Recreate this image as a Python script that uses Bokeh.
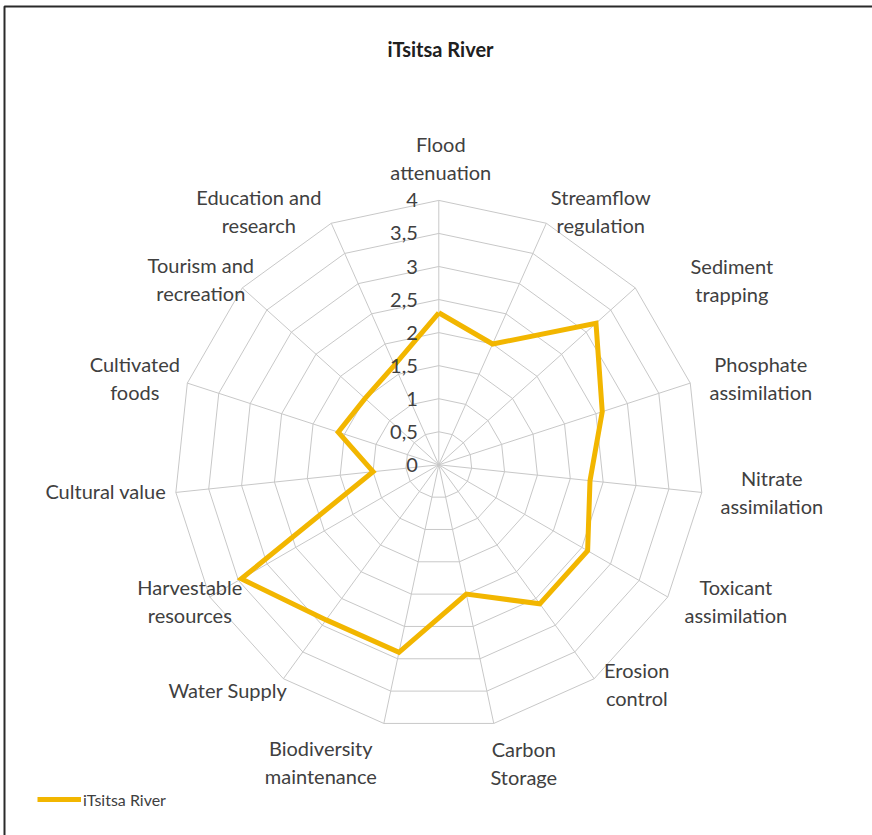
import numpy as np
from bokeh.plotting import figure
from bokeh.models import Range1d, Legend, LegendItem
from bokeh.core.properties import value
from bokeh.embed import file_html
from bokeh.resources import INLINE

# ---------------- data ----------------
categories = ["Flood attenuation", "Streamflow regulation", "Sediment trapping",
              "Phosphate assimilation", "Nitrate assimilation", "Toxicant assimilation",
              "Erosion control", "Carbon Storage", "Biodiversity maintenance",
              "Water Supply", "Harvestable resources", "Cultural value",
              "Cultivated foods", "Tourism and recreation", "Education and research"]
label_text = ["Flood\nattenuation", "Streamflow\nregulation", "Sediment\ntrapping",
              "Phosphate\nassimilation", "Nitrate\nassimilation", "Toxicant\nassimilation",
              "Erosion\ncontrol", "Carbon\nStorage", "Biodiversity\nmaintenance",
              "Water Supply", "Harvestable\nresources", "Cultural value",
              "Cultivated\nfoods", "Tourism and\nrecreation", "Education and\nresearch"]
values = [2.3, 2.0, 3.2, 2.6, 2.3, 2.6, 2.6, 2.0, 2.9, 2.9, 3.45, 1.0, 1.6, 1.5, 1.65]
tick_values = [0, 0.5, 1, 1.5, 2, 2.5, 3, 3.5, 4]
tick_labels = ["0", "0,5", "1", "1,5", "2", "2,5", "3", "3,5", "4"]
series_name = "iTsitsa River"
title_text = "iTsitsa River"

# ---------------- layout ----------------
W, H = 872, 835
UNIT = 66.1                 # pixels per value unit
CX, CY = 438.3, 464.3       # chart centre in figure pixels
# label block centres, pixel offsets from chart centre (x right, y down)
label_offsets = [(2, -307), (162, -254), (293, -185), (322, -87), (333, 27),
                 (297, 136), (198, 219), (85, 298), (-118, 297), (-211, 225),
                 (-249, 136), (-333, 26), (-304, -87), (-238, -186), (-180, -254)]
FONT = "Lato"
TEXT_COLOR = "#404040"
GRID_COLOR = "#C8C8C8"
LINE_COLOR = "#F2B600"


def px_x(x):
    return (x - CX) / UNIT


def px_y(y):
    return (CY - y) / UNIT


n = len(categories)
theta = np.arange(n) * 2 * np.pi / n

p = figure(width=W, height=H, output_backend="svg", toolbar_location=None,
           x_range=Range1d(px_x(0), px_x(W)), y_range=Range1d(px_y(H), px_y(0)),
           min_border=0, background_fill_color="white", border_fill_color="white")
p.axis.visible = False
p.grid.visible = False
p.outline_line_color = None

# rings
rmax = max(tick_values)
ring_xs, ring_ys = [], []
for r in tick_values[1:]:
    ring_xs.append(list(r * np.sin(np.append(theta, theta[0]))))
    ring_ys.append(list(r * np.cos(np.append(theta, theta[0]))))
p.multi_line(ring_xs, ring_ys, line_color=GRID_COLOR, line_width=1)
# spokes
p.segment(x0=np.zeros(n), y0=np.zeros(n), x1=rmax * np.sin(theta), y1=rmax * np.cos(theta),
          line_color=GRID_COLOR, line_width=1)

# series
vals = np.array(values)
sx = list(vals * np.sin(theta)) + [vals[0] * np.sin(theta[0])]
sy = list(vals * np.cos(theta)) + [vals[0] * np.cos(theta[0])]
series = p.line(sx, sy, line_color=LINE_COLOR, line_width=5, line_join="miter")

# tick labels
p.text(x=np.zeros(len(tick_values)), y=tick_values, text=tick_labels,
       x_offset=-21, text_align="right", text_baseline="middle",
       text_font=value(FONT), text_font_size="20px", text_color=TEXT_COLOR)

# category labels
lx = [dx / UNIT for dx, dy in label_offsets]
ly = [-dy / UNIT for dx, dy in label_offsets]
p.text(x=lx, y=ly, text=label_text, text_align="center", text_baseline="middle",
       text_line_height=1.17, text_font=value(FONT), text_font_size="20px",
       text_color=TEXT_COLOR)

# title
p.text(x=[px_x(440)], y=[px_y(48)], text=[title_text],
       text_align="center", text_baseline="middle", text_font=value(FONT),
       text_font_size="20px", text_font_style="bold", text_color="#202020")

# frame edges (top and left)
p.line(x=[px_x(4), px_x(4), px_x(W)], y=[px_y(H), px_y(6), px_y(6)],
       line_color="#2a2a2a", line_width=2)

legend = Legend(items=[LegendItem(label=series_name, renderers=[series])],
                location=(37, 25), orientation="vertical", padding=0, margin=0,
                glyph_width=44, glyph_height=22, label_height=22, label_standoff=2,
                label_text_font=FONT, label_text_font_size="16px",
                label_text_color=TEXT_COLOR, border_line_color=None,
                background_fill_alpha=0)
p.add_layout(legend, "center")

open("out.html", "w").write(file_html(p, INLINE))
